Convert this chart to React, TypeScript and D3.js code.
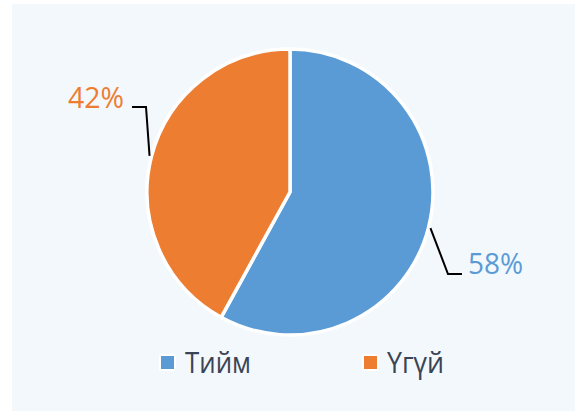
import React from "react";
import * as d3 from "d3";

const categories = ["Тийм", "Үгүй"];
const values = [58, 42];
const colors = ["#5B9BD5", "#ED7D31"];

const W = 575;
const H = 411;
const cx = 290;
const cy = 192;
const R = 143;

export default function App() {
  const pie = d3.pie<number>().sort(null).value((d) => d)(values);
  const arc = d3.arc<d3.PieArcDatum<number>>().innerRadius(0).outerRadius(R);
  const font = "'Open Sans', 'Noto Sans', sans-serif";

  // leader-line anchor points on the arc (mid-angle of each slice)
  const pt = (a: number, r: number) => [cx + r * Math.sin(a), cy - r * Math.cos(a)];
  const mid = (d: d3.PieArcDatum<number>) => (d.startAngle + d.endAngle) / 2;
  const p0 = pt(mid(pie[0]), R + 2);
  const p1 = pt(mid(pie[1]), R + 2);

  const labelFmt = (v: number) => `${v}%`;

  return (
    <div style={{ position: "absolute", left: 0, top: 0 }}>
      <svg width={W} height={H} style={{ display: "block" }}>
        <rect x={0} y={0} width={W} height={H} fill="#ffffff" />
        <rect x={12} y={4} width={W - 12} height={H - 4} fill="#F3F8FD" />
        <g transform={`translate(${cx},${cy})`}>
          {pie.map((d, i) => (
            <path key={i} d={arc(d) || ""} fill={colors[i]} stroke="#ffffff" strokeWidth={3.5} strokeLinejoin="round" />
          ))}
        </g>
        {/* leader for 58% */}
        <polyline
          points={`${p0[0]},${p0[1]} 448,274 462,274`}
          fill="none"
          stroke="#000"
          strokeWidth={2}
        />
        <text
          x={468}
          y={274}
          fill={colors[0]}
          fontFamily={font}
          fontSize={29}
          textLength={55}
          lengthAdjust="spacingAndGlyphs"
        >
          {labelFmt(values[0])}
        </text>
        {/* leader for 42% */}
        <polyline
          points={`132,107 146,107 ${p1[0]},${p1[1]}`}
          fill="none"
          stroke="#000"
          strokeWidth={2}
        />
        <text
          x={68}
          y={108}
          fill={colors[1]}
          fontFamily={font}
          fontSize={29}
          textLength={56}
          lengthAdjust="spacingAndGlyphs"
        >
          {labelFmt(values[1])}
        </text>
        {/* legend */}
        {categories.map((c, i) => {
          const lx = i === 0 ? 161 : 364;
          const tx = i === 0 ? 185 : 387;
          const tl = i === 0 ? 66 : 57;
          return (
            <g key={c}>
              <rect x={lx - 2} y={354} width={17} height={17} fill="#ffffff" rx={2} />
              <rect x={lx} y={356} width={13} height={13} fill={colors[i]} />
              <text
                x={tx}
                y={372.5}
                fill="#3A4454"
                fontFamily={font}
                fontSize={30}
                textLength={tl}
                lengthAdjust="spacingAndGlyphs"
              >
                {c}
              </text>
            </g>
          );
        })}
      </svg>
    </div>
  );
}
